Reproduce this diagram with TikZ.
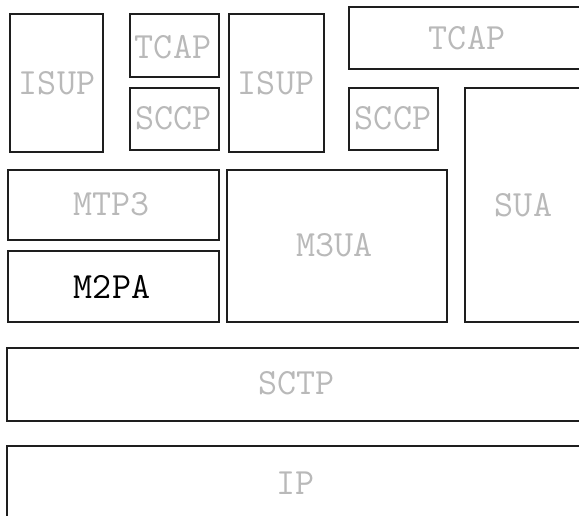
\documentclass[tikz,border=0pt]{standalone}
\usepackage{fontspec}
\definecolor{lbl}{RGB}{185,185,185}
\definecolor{edge}{RGB}{30,30,30}
\tikzset{
  layer/.style={draw=edge, line width=1.6pt},
  lab/.style={inner sep=0pt, text=lbl, font=\ttfamily\fontsize{37}{37}\selectfont},
  labdark/.style={lab, text=black}
}
\begin{document}
\begin{tikzpicture}[x=1pt,y=-1pt]
\useasboundingbox (0,0) rectangle (579,515);
\clip (0,0) rectangle (579,515);
% boxes
\draw[layer] (10,14) rectangle (103,152);
\draw[layer] (130,14) rectangle (219,77);
\draw[layer] (130,88) rectangle (219,150);
\draw[layer] (229,14) rectangle (324,152);
\draw[layer] (349,7) rectangle (590,69);
\draw[layer] (349,88) rectangle (438,150);
\draw[layer] (8,170) rectangle (219,240);
\draw[layer] (8,251) rectangle (219,322);
\draw[layer] (227,170) rectangle (447,322);
\draw[layer] (465,88) rectangle (590,322);
\draw[layer] (7,348) rectangle (590,421);
\draw[layer] (7,446) rectangle (590,530);
% labels
\node[lab] (isup1) at (57,83.5) {ISUP};
\node[lab] (tcap1) at (173,47) {TCAP};
\node[lab] (sccp1) at (173.5,118.5) {SCCP};
\node[lab] (isup2) at (276,83.5) {ISUP};
\node[lab] (tcap2) at (467,38.5) {TCAP};
\node[lab] (sccp2) at (393,118.5) {SCCP};
\node[lab] (mtp3) at (111.5,204) {MTP3};
\node[labdark] (m2pa) at (112,286.5) {M2PA};
\node[lab] (m3ua) at (334.5,245.5) {M3UA};
\node[lab] (sua) at (523.5,205) {SUA};
\node[lab] (sctp) at (296.5,383.5) {SCTP};
\node[lab] (ip) at (295.5,483.5) {IP};
\end{tikzpicture}
\end{document}
